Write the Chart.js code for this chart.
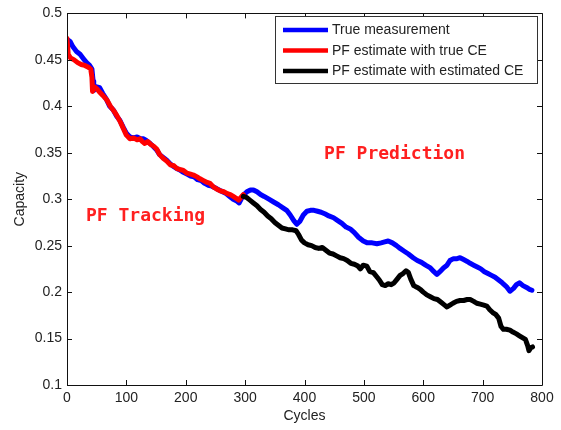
<!DOCTYPE html>
<html>
<head>
<meta charset="utf-8">
<script src="https://cdn.jsdelivr.net/npm/chart.js@4/dist/chart.umd.min.js"></script>
<style>
  html, body { margin: 0; padding: 0; background: #ffffff; }
  #wrap { width: 561px; height: 430px; }
</style>
</head>
<body>
<div id="wrap"><canvas id="cap" width="561" height="430"></canvas></div>
<script>
// Measured capacity over the whole test
const trueCycles = [0,5,10,16,22,28,33,38,42,44,45,50,55,60,66,72,78,84,89,95,100,106,112,118,124,129,134,140,145,151,156,162,168,174,180,185,191,196,202,208,214,220,226,232,238,244,250,256,262,268,274,280,286,290,294,298,303,309,314,320,326,332,340,348,356,363,370,376,382,387,392,398,404,410,416,422,428,435,441,449,456,463,470,477,484,491,499,506,514,522,529,535,541,548,555,561,568,575,583,590,597,604,612,618,623,628,634,640,645,651,657,662,668,674,679,685,691,697,703,709,715,721,727,733,740,746,752,757,762,768,774,779,783];
const trueCapacity = [0.472,0.470,0.464,0.459,0.456,0.451,0.447,0.444,0.440,0.427,0.417,0.421,0.420,0.414,0.408,0.400,0.396,0.389,0.385,0.377,0.371,0.367,0.366,0.367,0.365,0.365,0.363,0.360,0.357,0.353,0.348,0.345,0.342,0.338,0.335,0.333,0.331,0.329,0.327,0.325,0.324,0.321,0.320,0.317,0.315,0.314,0.312,0.310,0.308,0.306,0.303,0.300,0.298,0.296,0.301,0.305,0.308,0.310,0.310,0.308,0.305,0.303,0.300,0.297,0.294,0.291,0.288,0.283,0.277,0.273,0.276,0.283,0.287,0.288,0.288,0.287,0.286,0.284,0.282,0.280,0.277,0.274,0.270,0.268,0.264,0.259,0.255,0.253,0.253,0.252,0.253,0.254,0.255,0.253,0.250,0.247,0.244,0.241,0.237,0.234,0.232,0.229,0.226,0.222,0.219,0.222,0.226,0.229,0.234,0.236,0.236,0.237,0.235,0.233,0.231,0.229,0.227,0.225,0.222,0.220,0.218,0.216,0.213,0.210,0.206,0.201,0.204,0.208,0.210,0.207,0.205,0.203,0.202];

// Particle-filter tracking using the true coulombic efficiency
const trackCycles = [0,2,6,12,18,24,30,36,40,42,43,46,50,54,60,67,73,79,84,90,95,100,106,112,118,123,127,131,136,141,146,151,156,162,168,174,180,185,190,196,202,208,213,219,224,230,236,241,247,252,258,264,270,275,280,285,289,293,297];
const trackCapacity = [0.473,0.456,0.452,0.450,0.447,0.445,0.444,0.442,0.440,0.431,0.416,0.421,0.419,0.416,0.412,0.407,0.400,0.395,0.390,0.383,0.376,0.369,0.365,0.366,0.364,0.365,0.362,0.360,0.362,0.359,0.357,0.354,0.348,0.344,0.341,0.337,0.336,0.333,0.332,0.331,0.328,0.327,0.326,0.324,0.322,0.320,0.318,0.317,0.313,0.311,0.309,0.308,0.306,0.305,0.303,0.301,0.299,0.302,0.305];

// Particle-filter prediction using the estimated coulombic efficiency
const predCycles = [297,302,308,314,320,326,332,338,344,350,356,362,368,374,380,386,390,395,400,406,412,418,424,430,436,442,448,454,460,466,472,478,484,490,494,499,505,510,516,521,526,531,536,541,546,551,556,561,566,571,575,579,584,590,595,600,606,612,618,624,630,636,640,645,650,656,662,668,674,679,685,690,696,702,707,712,717,722,727,731,735,740,746,751,757,762,767,772,776,778,781,784];
const predCapacity = [0.303,0.302,0.299,0.296,0.293,0.289,0.286,0.282,0.279,0.275,0.272,0.269,0.268,0.267,0.267,0.266,0.262,0.256,0.253,0.251,0.250,0.248,0.247,0.248,0.245,0.242,0.241,0.239,0.237,0.236,0.234,0.231,0.230,0.228,0.225,0.229,0.228,0.222,0.221,0.217,0.213,0.208,0.207,0.209,0.208,0.210,0.214,0.218,0.220,0.223,0.221,0.214,0.207,0.205,0.203,0.200,0.197,0.195,0.193,0.192,0.189,0.186,0.184,0.186,0.188,0.190,0.191,0.191,0.192,0.192,0.190,0.188,0.187,0.186,0.185,0.181,0.178,0.176,0.172,0.163,0.160,0.160,0.159,0.157,0.155,0.153,0.151,0.149,0.142,0.137,0.140,0.141];

const seriesLabels = ['True measurement', 'PF estimate with true CE', 'PF estimate with estimated CE'];
const xTicks = [0, 100, 200, 300, 400, 500, 600, 700, 800];
const yTicks = [0.1, 0.15, 0.2, 0.25, 0.3, 0.35, 0.4, 0.45, 0.5];

// Text notes placed in data coordinates: [text, cycles, capacity]
const notes = [
  ['PF Prediction', 433, 0.3478],
  ['PF Tracking', 32, 0.2815]
];

const pairs = (xs, ys) => xs.map((x, i) => ({ x: x, y: ys[i] }));
const seriesColors = ['#0000ff', '#ff0000', '#000000'];
const labelFont = '14px "Liberation Sans", Arial, sans-serif';

const boxAndTicks = {
  id: 'boxAndTicks',
  afterDatasetsDraw(chart) {
    const { ctx, chartArea: a, scales } = chart;
    ctx.save();
    ctx.strokeStyle = '#111';
    ctx.lineWidth = 1;
    ctx.beginPath();
    ctx.rect(Math.round(a.left) + 0.5, Math.round(a.top) + 0.5,
             Math.round(a.right - a.left), Math.round(a.bottom - a.top));
    ctx.stroke();
    const len = 5;
    ctx.beginPath();
    xTicks.forEach(v => {
      const px = Math.round(scales.x.getPixelForValue(v)) + 0.5;
      ctx.moveTo(px, a.bottom); ctx.lineTo(px, a.bottom - len);
      ctx.moveTo(px, a.top); ctx.lineTo(px, a.top + len);
    });
    yTicks.forEach(v => {
      const py = Math.round(scales.y.getPixelForValue(v)) + 0.5;
      ctx.moveTo(a.left, py); ctx.lineTo(a.left + len, py);
      ctx.moveTo(a.right, py); ctx.lineTo(a.right - len, py);
    });
    ctx.stroke();

    // axis titles
    ctx.fillStyle = '#222';
    ctx.font = labelFont;
    ctx.textAlign = 'center';
    ctx.textBaseline = 'middle';
    ctx.fillText('Cycles', (a.left + a.right) / 2, 416);
    ctx.save();
    ctx.translate(20, (a.top + a.bottom) / 2);
    ctx.rotate(-Math.PI / 2);
    ctx.fillText('Capacity', 0, 0);
    ctx.restore();

    // in-plot notes
    ctx.fillStyle = '#ff2020';
    ctx.font = 'bold 18px "DejaVu Sans Mono", monospace';
    ctx.textAlign = 'left';
    notes.forEach(([t, cx, cy]) => {
      ctx.fillText(t, scales.x.getPixelForValue(cx), scales.y.getPixelForValue(cy));
    });

    // legend box
    const lx = 275.5, ly = 16.5, lw = 262, lh = 67;
    ctx.fillStyle = '#ffffff';
    ctx.fillRect(lx, ly, lw, lh);
    ctx.strokeStyle = '#333';
    ctx.lineWidth = 1;
    ctx.strokeRect(lx, ly, lw, lh);
    ctx.font = labelFont;
    ctx.textBaseline = 'middle';
    chart.data.datasets.forEach((ds, i) => {
      const y = 30 + i * 20.5;
      ctx.strokeStyle = ds.borderColor;
      ctx.lineWidth = 4.5;
      ctx.beginPath();
      ctx.moveTo(283, y); ctx.lineTo(328, y);
      ctx.stroke();
      ctx.fillStyle = '#222';
      ctx.fillText(ds.label, 332, y + 0.5);
    });
    ctx.restore();
  }
};

// later series are painted over earlier ones (lower order = on top)
const mkSet = (label, xs, ys, color, order) => ({
  label: label,
  data: pairs(xs, ys),
  order: order,
  borderColor: color,
  backgroundColor: color,
  borderWidth: 5,
  pointRadius: 0,
  tension: 0,
  borderJoinStyle: 'round',
  borderCapStyle: 'round',
  fill: false
});

new Chart(document.getElementById('cap'), {
  type: 'line',
  data: {
    datasets: [
      mkSet(seriesLabels[0], trueCycles, trueCapacity, seriesColors[0], 3),
      mkSet(seriesLabels[1], trackCycles, trackCapacity, seriesColors[1], 2),
      mkSet(seriesLabels[2], predCycles, predCapacity, seriesColors[2], 1)
    ]
  },
  options: {
    responsive: false,
    animation: false,
    devicePixelRatio: 1,
    layout: { padding: { top: 11, right: 19, left: 0, bottom: 0 } },
    plugins: { legend: { display: false }, tooltip: { enabled: false } },
    scales: {
      x: {
        type: 'linear', min: 0, max: 800,
        afterBuildTicks: s => { s.ticks = xTicks.map(v => ({ value: v })); },
        afterFit: s => { s.height = 45; },
        grid: { display: false, drawTicks: false },
        border: { display: false },
        ticks: { color: '#222', font: { family: '"Liberation Sans", Arial, sans-serif', size: 14 }, padding: 5, maxRotation: 0 }
      },
      y: {
        type: 'linear', min: 0.1, max: 0.5,
        afterBuildTicks: s => { s.ticks = yTicks.map(v => ({ value: v })); },
        afterFit: s => { s.width = 67; },
        grid: { display: false, drawTicks: false },
        border: { display: false },
        ticks: {
          color: '#222', font: { family: '"Liberation Sans", Arial, sans-serif', size: 14 }, padding: 5,
          callback: v => String(+v.toFixed(2))
        }
      }
    }
  },
  plugins: [boxAndTicks]
});
</script>
</body>
</html>
